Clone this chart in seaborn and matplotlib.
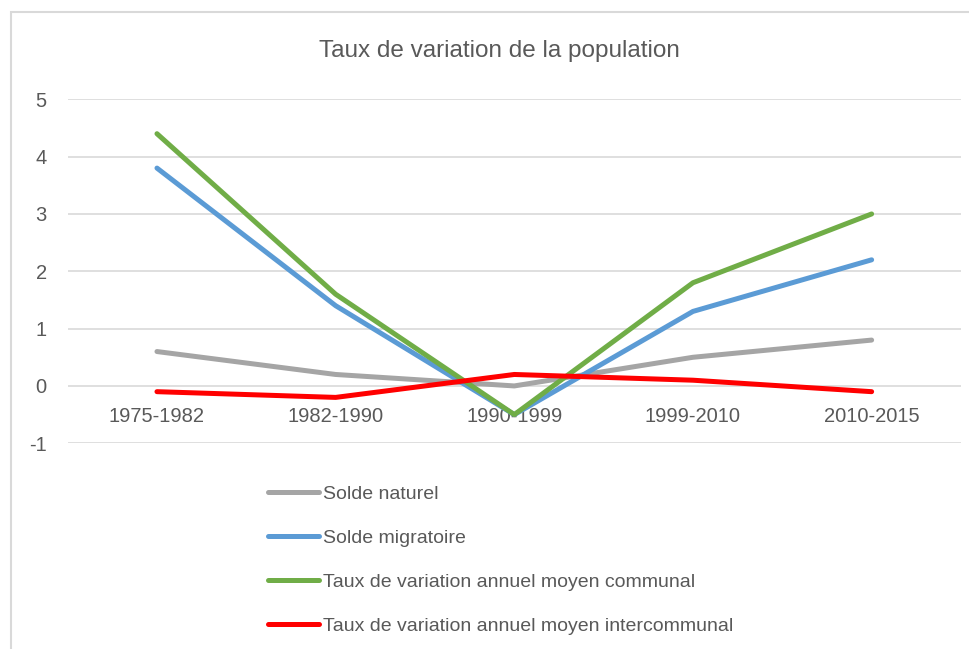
import numpy as np
import pandas as pd
import seaborn as sns
import matplotlib.pyplot as plt
from matplotlib.patches import Rectangle

periods = ["1975-1982", "1982-1990", "1990-1999", "1999-2010", "2010-2015"]
solde_naturel = [0.6, 0.2, 0.0, 0.5, 0.8]
solde_migratoire = [3.8, 1.4, -0.5, 1.3, 2.2]
taux_communal = [4.4, 1.6, -0.5, 1.8, 3.0]
taux_intercommunal = [-0.1, -0.2, 0.2, 0.1, -0.1]

series_names = [
    "Solde naturel",
    "Solde migratoire",
    "Taux de variation annuel moyen communal",
    "Taux de variation annuel moyen intercommunal",
]
colors = ["#A5A5A5", "#5B9BD5", "#70AD47", "#FF0000"]

df = pd.DataFrame(
    {
        "periode": periods * 4,
        "valeur": solde_naturel + solde_migratoire + taux_communal + taux_intercommunal,
        "serie": np.repeat(series_names, len(periods)),
    }
)

sns.set_style("white")
plt.rcParams["font.family"] = ["Liberation Sans", "DejaVu Sans"]
plt.rcParams["axes.unicode_minus"] = False
text_color = "#595959"
grid_color = "#D9D9D9"

fig = plt.figure(figsize=(9.69, 6.49), dpi=100)
ax = fig.add_axes([0.0698, 0.317, 0.9219, 0.530])

sns.lineplot(
    data=df,
    x="periode",
    y="valeur",
    hue="serie",
    hue_order=series_names,
    palette=colors,
    linewidth=3.6,
    solid_capstyle="round",
    ax=ax,
)

ax.set_xlim(-0.5, len(periods) - 0.5)
ax.set_ylim(-1, 5)
ax.set_yticks(range(-1, 6))
ax.yaxis.grid(True, color=grid_color, linewidth=1.2)
ax.set_axisbelow(True)
for s in ax.spines.values():
    s.set_visible(False)
ax.spines["bottom"].set_position(("data", 0))
ax.tick_params(axis="both", length=0, colors=text_color, labelsize=14.5)
ax.tick_params(axis="x", pad=15)
ax.tick_params(axis="y", pad=15)
ax.set_xlabel("")
ax.set_ylabel("")

ax.get_legend().remove()
handles, labels = ax.get_legend_handles_labels()
fig.legend(
    handles,
    labels,
    loc="upper left",
    bbox_to_anchor=(0.259, 0.279),
    frameon=False,
    fontsize=14,
    labelcolor=text_color,
    handlelength=2.6,
    handletextpad=0.2,
    labelspacing=1.35,
)

fig.text(0.515, 0.921, "Taux de variation de la population", ha="center", va="center",
         fontsize=17.5, color=text_color)

fig.patches.append(
    Rectangle((10.5 / 969, -0.1), 1.1, 1 - 12 / 649 + 0.1, transform=fig.transFigure,
              fill=False, edgecolor=grid_color, linewidth=1.5, figure=fig)
)

fig.savefig("out.png", dpi=100)
